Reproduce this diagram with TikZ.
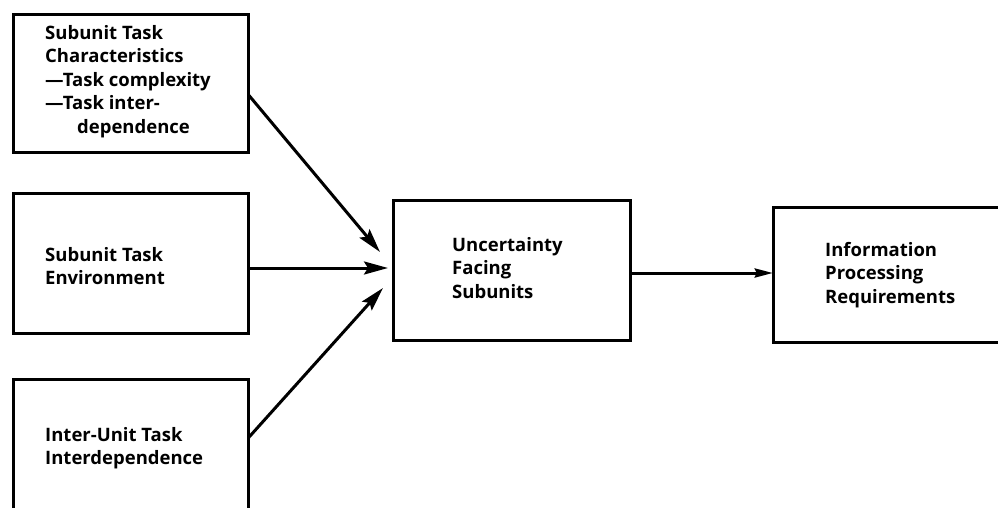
\documentclass[tikz,border=0pt]{standalone}
\usepackage{fontspec}
\setmainfont{Open Sans}
\usetikzlibrary{arrows.meta,calc}
\begin{document}
\begin{tikzpicture}[x=1pt,y=-1pt,
  box/.style={draw,line width=3pt,rectangle,inner sep=0pt},
  lbl/.style={anchor=north west,align=left,inner sep=0pt,font=\fontsize{18.5}{23.5}\selectfont\bfseries},
  conn/.style={line width=3pt,-{Stealth[length=24pt,width=13pt,inset=4pt]}},
  conn2/.style={line width=3pt,-{Stealth[length=18pt,width=9pt,inset=2pt]}}]
\useasboundingbox (0,0) rectangle (998,508);
\clip (0,0) rectangle (998,508);
% boxes
\draw[box] (13,15) rectangle (248,152);
\draw[box] (13,193) rectangle (248,333);
\draw[box] (13,379) rectangle (248,540);
\draw[box] (393,200) rectangle (630,340);
\draw[box] (773,207) rectangle (1010,342);
\node (b1) at (130.5,83.5) [minimum width=235pt,minimum height=137pt] {};
\node (b2) at (130.5,263) [minimum width=235pt,minimum height=140pt] {};
\node (b3) at (130.5,459.5) [minimum width=235pt,minimum height=161pt] {};
\node (c) at (511.5,270) [minimum width=237pt,minimum height=140pt] {};
\node (r) at (891.5,274.5) [minimum width=237pt,minimum height=135pt] {};
% labels
\node[lbl] (t1) at (45,25) {Subunit Task\\Characteristics\\---Task complexity\\---Task inter-\\\hspace*{32pt}dependence};
\node[lbl] (t2) at (45,247) {Subunit Task\\Environment};
\node[lbl] (t3) at (45,427) {Inter-Unit Task\\Interdependence};
\node[lbl] (t4) at (452,237) {Uncertainty\\Facing\\Subunits};
\node[lbl] (t5) at (825,242) {Information\\Processing\\Requirements};
% connectors
\coordinate (e1) at (380,252);
\coordinate (e2) at (388,268);
\coordinate (e3) at (383,288);
\draw[conn] ($(b1.north east)!0.58!(b1.south east)$) -- (e1);
\draw[conn] (b2.east |- e2) -- (e2);
\draw[conn] ($(b3.north east)!0.367!(b3.south east)$) -- (e3);
\draw[conn2] (c.east |- 0,273) -- (r.west |- 0,273);
\end{tikzpicture}
\end{document}
